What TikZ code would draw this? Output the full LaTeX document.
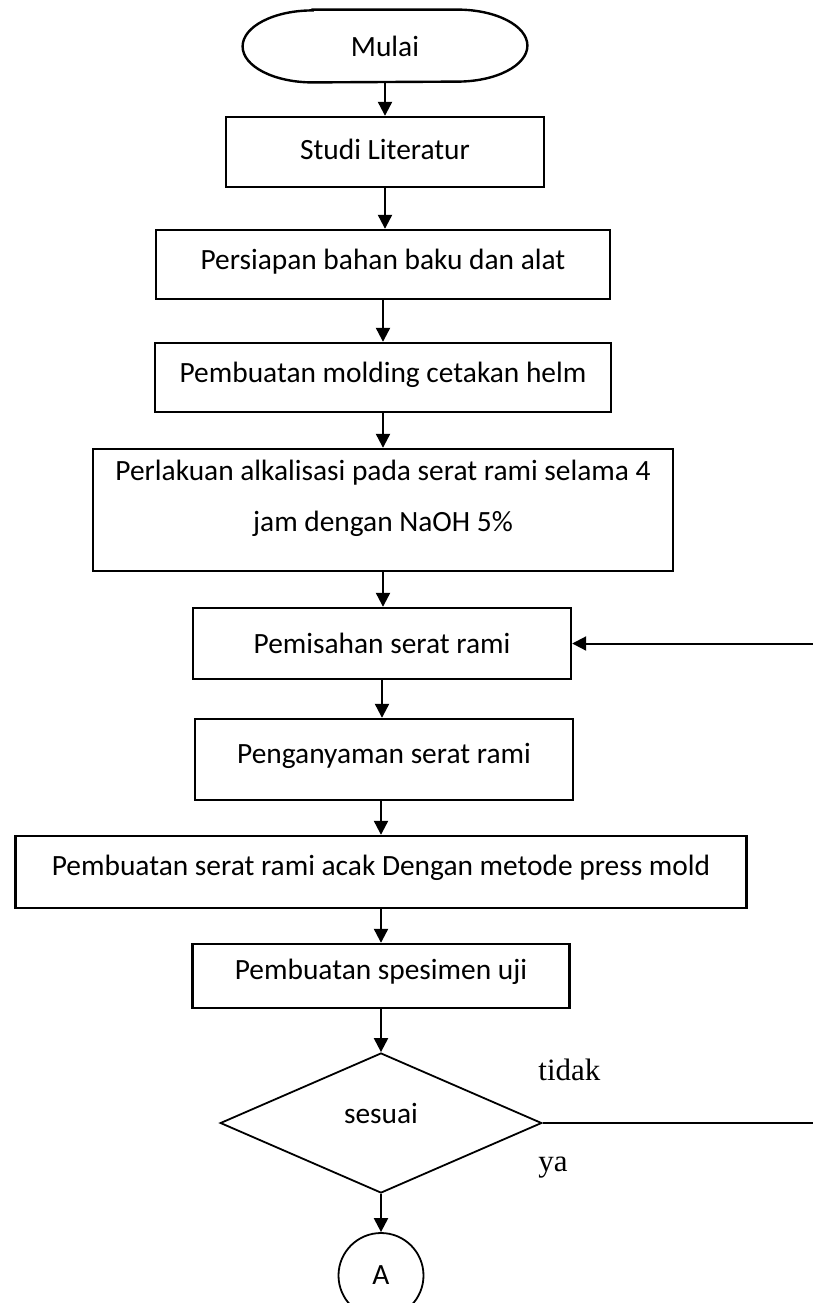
\documentclass[tikz,border=0pt]{standalone}
\usepackage{fontspec}
\setmainfont{Carlito}
\newfontfamily\timesf{Liberation Serif}
\usetikzlibrary{arrows.meta,shapes.geometric}
\tikzset{
  stepbox/.style={draw, line width=1.2pt, inner sep=0pt, rectangle, align=center,
    font=\fontsize{14.7pt}{25.5pt}\selectfont},
  arr/.style={line width=1.1pt, -{Triangle[length=7pt,width=7pt]}},
  thinline/.style={line width=0.9pt},
  lbl/.style={font=\timesf\fontsize{15.5pt}{18pt}\selectfont, inner sep=0pt, anchor=base west}
}
\begin{document}
\begin{tikzpicture}[x=0.5pt,y=-0.5pt]
\useasboundingbox (0,0) rectangle (813,1303);
% terminator
\node[inner sep=0pt, minimum width=142pt, minimum height=36pt,
      font=\fontsize{14.7pt}{17pt}\selectfont] (start) at (385,46) {Mulai};
\draw[line width=1.2pt] ([xshift=35pt]start.north west) -- ([xshift=-35pt]start.north east)
  arc[start angle=90,end angle=-90,x radius=35pt,y radius=18pt]
  -- ([xshift=35pt]start.south west)
  arc[start angle=270,end angle=90,x radius=35pt,y radius=18pt] -- cycle;
% boxes
\node[stepbox, minimum width=159pt, minimum height=35pt] (studi) at (385,152) {\raisebox{1.5pt}[\height][\depth]{Studi Literatur}};
\node[stepbox, minimum width=227pt, minimum height=34.5pt] (siap) at (383,264.5) {\raisebox{1.5pt}[\height][\depth]{Persiapan bahan baku dan alat}};
\node[stepbox, minimum width=228pt, minimum height=34.5pt] (mold) at (383,377.5) {\raisebox{1.5pt}[\height][\depth]{Pembuatan molding cetakan helm}};
\node[stepbox, minimum width=290pt, minimum height=61pt] (alk) at (383,510)
  {\raisebox{6pt}[\height][\depth]{\parbox{285pt}{\centering Perlakuan alkalisasi pada serat rami selama 4\\ jam dengan NaOH 5\%}}};
\node[stepbox, minimum width=189pt, minimum height=35.5pt] (pisah) at (382,643.5) {Pemisahan serat rami};
\node[stepbox, minimum width=189pt, minimum height=40.5pt] (anyam) at (384,759.5) {\raisebox{2pt}[\height][\depth]{Penganyaman serat rami}};
\node[stepbox, minimum width=365.5pt, minimum height=36pt] (acak) at (381,872) {\raisebox{2pt}[\height][\depth]{Pembuatan serat rami acak Dengan metode press mold}};
\node[stepbox, minimum width=188.5pt, minimum height=32pt] (spes) at (381,976) {\raisebox{2pt}[\height][\depth]{Pembuatan spesimen uji}};
% decision
\node[diamond, draw, thinline, inner sep=0pt, minimum width=160.75pt, minimum height=70pt,
      font=\fontsize{14.7pt}{17pt}\selectfont] (dia) at (381,1123) {\raisebox{5pt}[\height][\depth]{sesuai}};
% connector circle
\node[circle, draw, thinline, inner sep=0pt, minimum size=42.5pt,
      font=\fontsize{14.7pt}{17pt}\selectfont] (circA) at (381,1275.5) {A};
% labels
\node[lbl] (tidak) at (538,1080) {tidak};
\node[lbl] (ya) at (538,1171) {ya};
% arrows
\draw[arr] (start.south) -- (start.south |- studi.north);
\draw[arr] (studi.south) -- (studi.south |- siap.north);
\draw[arr] (siap.south) -- (siap.south |- mold.north);
\draw[arr] (mold.south) -- (mold.south |- alk.north);
\draw[arr] (alk.south) -- (alk.south |- pisah.north);
\draw[arr] (pisah.south) -- (pisah.south |- anyam.north);
\draw[arr] (acak.north |- anyam.south) -- (acak.north);
\draw[arr] (acak.south) -- (acak.south |- spes.north);
\draw[arr] (spes.south) -- (spes.south |- dia.north);
\draw[arr] (dia.south) -- (circA.north);
% feedback loop (vertical part lies beyond the right edge)
\coordinate (fb) at (830,900);
\draw[arr, line width=1pt] (dia.east) -- (dia.east -| fb) |- (pisah.east);
\end{tikzpicture}
\end{document}
